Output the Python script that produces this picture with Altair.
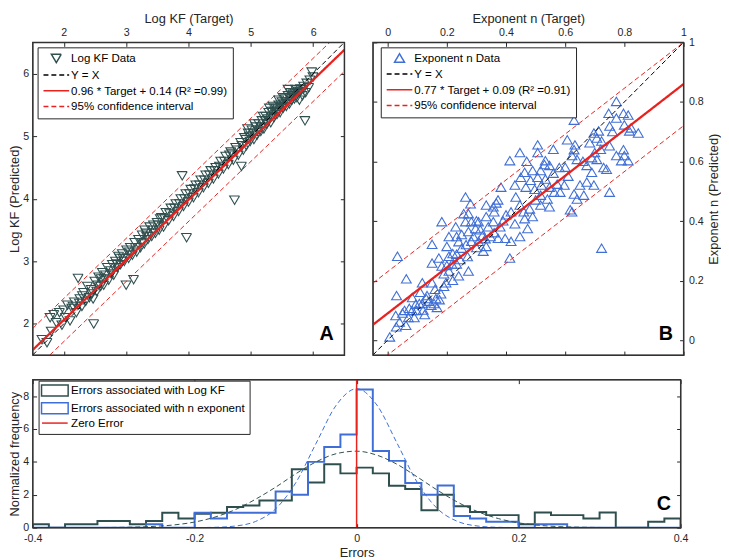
import altair as alt
import pandas as pd

FONT = "Liberation Sans"
INK = "#262626"
RED = "#e8231f"
SLATE = "#2f4f4f"
BLUE = "#3f6fd6"
FRAME_COLOR = "#333333"

# ---------------- Panel A : Log KF ----------------
A_target = [1.65, 1.73, 1.78, 1.80, 1.84, 1.88, 1.93, 1.97, 2.00, 2.03,
            2.06, 2.10, 2.13, 2.17, 2.20, 2.23, 2.26, 2.29, 2.32, 2.35,
            2.38, 2.41, 2.44, 2.47, 2.48, 2.50, 2.53, 2.56, 2.59, 2.62,
            2.64, 2.67, 2.70, 2.72, 2.75, 2.78, 2.80, 2.83, 2.86, 2.88,
            2.91, 2.94, 2.97, 3.00, 3.01, 3.04, 3.07, 3.10, 3.12, 3.14,
            3.17, 3.20, 3.23, 3.26, 3.29, 3.32, 3.35, 3.38, 3.41, 3.44,
            3.47, 3.50, 3.53, 3.57, 3.60, 3.64, 3.68, 3.72, 3.76, 3.80,
            3.84, 3.88, 3.90, 3.92, 3.96, 3.97, 4.00, 4.04, 4.08, 4.12,
            4.16, 4.20, 4.24, 4.28, 4.32, 4.36, 4.40, 4.44, 4.48, 4.52,
            4.56, 4.60, 4.64, 4.68, 4.72, 4.74, 4.76, 4.80, 4.85, 4.84,
            4.88, 4.90, 4.93, 4.96, 4.99, 5.02, 5.05, 5.08, 5.10, 5.13,
            5.16, 5.18, 5.21, 5.24, 5.26, 5.29, 5.32, 5.34, 5.37, 5.40,
            5.42, 5.45, 5.47, 5.50, 5.52, 5.55, 5.57, 5.60, 5.62, 5.64,
            5.66, 5.68, 5.70, 5.72, 5.74, 5.76, 5.78, 5.80, 5.83, 5.85,
            5.87, 5.88, 5.90, 5.93, 5.95, 5.98, 6.00, 5.60, 5.45, 5.30,
            2.15, 2.25, 2.45, 2.55, 2.65, 2.76, 2.85, 2.95, 3.05, 3.15,
            3.25, 3.33, 3.43, 3.52, 3.62, 3.70, 3.78, 3.86, 3.94, 4.02,
            4.10, 4.18, 4.26, 4.34, 4.42, 4.50, 4.58, 4.66, 4.70, 4.78,
            4.86, 4.92, 4.98, 5.04, 5.11, 5.17, 5.23, 5.28, 5.33, 5.38,
            5.43, 5.48, 5.53, 5.58, 5.63, 5.67, 5.71, 5.75, 5.79, 5.84,
            5.52, 5.36, 5.20, 5.06, 4.95, 3.55, 3.30, 2.90, 2.60, 2.30]
A_pred = [1.75, 1.70, 2.10, 1.88, 2.15, 2.02, 2.18, 1.98, 2.22, 2.10,
          2.30, 2.05, 2.25, 2.35, 2.18, 2.73, 2.40, 2.28, 2.50, 2.36,
          2.60, 2.42, 2.55, 2.40, 2.00, 2.68, 2.52, 2.75, 2.60, 2.82,
          2.62, 2.78, 2.90, 2.70, 2.85, 2.95, 2.78, 3.00, 2.90, 3.08,
          2.95, 3.12, 3.00, 2.62, 3.18, 3.05, 3.22, 3.10, 2.71, 3.30,
          3.15, 3.35, 3.22, 3.42, 3.28, 3.45, 3.35, 3.55, 3.40, 3.58,
          3.45, 3.62, 3.50, 3.70, 3.55, 3.78, 3.65, 3.85, 3.72, 3.92,
          3.80, 4.00, 4.37, 3.88, 4.08, 3.38, 3.95, 4.15, 4.02, 4.22,
          4.10, 4.30, 4.18, 4.38, 4.25, 4.45, 4.32, 4.50, 4.40, 4.60,
          4.48, 4.68, 4.55, 4.75, 4.62, 3.98, 4.82, 4.70, 4.52, 4.90,
          4.78, 4.98, 4.85, 5.05, 4.92, 5.10, 4.95, 5.15, 5.02, 5.20,
          5.08, 5.25, 5.12, 5.32, 5.20, 5.38, 5.22, 5.40, 5.30, 5.45,
          5.35, 5.50, 5.38, 5.55, 5.45, 5.60, 5.48, 5.65, 5.52, 5.70,
          5.58, 5.68, 5.60, 5.75, 5.62, 5.72, 5.58, 5.76, 5.65, 5.80,
          5.25, 5.70, 5.85, 5.78, 5.90, 6.03, 5.95, 5.75, 5.58, 5.45,
          2.28, 2.33, 2.48, 2.62, 2.72, 2.80, 2.96, 3.05, 3.15, 3.22,
          3.30, 3.40, 3.50, 3.58, 3.68, 3.76, 3.85, 3.92, 4.00, 4.08,
          4.16, 4.22, 4.30, 4.38, 4.45, 4.52, 4.60, 4.70, 4.72, 4.78,
          4.85, 4.95, 5.00, 5.05, 5.10, 5.15, 5.25, 5.28, 5.32, 5.40,
          5.42, 5.48, 5.52, 5.55, 5.62, 5.64, 5.70, 5.68, 5.72, 5.75,
          5.62, 5.48, 5.32, 5.20, 5.12, 3.68, 3.50, 3.05, 2.72, 2.45]
A_slope = 0.96
A_intercept = 0.14
A_ci_half = 0.345
A_domain = [1.5, 6.5]
A_ticks = [2, 3, 4, 5, 6]
A_series = ["Log KF Data", "Y = X", "0.96 * Target + 0.14 (R² =0.99)",
            "95% confidence interval"]

# ---------------- Panel B : exponent n ----------------
B_target = [0.007, 0.029, 0.062, 0.027, 0.050, 0.030, 0.083, 0.107, 0.133, 0.157,
            0.167, 0.180, 0.063, 0.033, 0.150, 0.197, 0.173, 0.207, 0.150, 0.200,
            0.233, 0.263, 0.280, 0.207, 0.233, 0.250, 0.273, 0.250, 0.283, 0.307,
            0.273, 0.333, 0.367, 0.313, 0.333, 0.357, 0.380, 0.307, 0.333, 0.347,
            0.417, 0.447, 0.397, 0.417, 0.447, 0.413, 0.473, 0.463, 0.490, 0.517,
            0.547, 0.617, 0.623, 0.723, 0.183, 0.230, 0.297, 0.323, 0.373, 0.283,
            0.263, 0.217, 0.273, 0.240, 0.207, 0.233, 0.183, 0.117, 0.083, 0.057,
            0.117, 0.147, 0.163, 0.073, 0.097, 0.130, 0.190, 0.150, 0.290, 0.257,
            0.357,
            0.773, 0.747, 0.797, 0.813, 0.773, 0.750, 0.800, 0.823, 0.817, 0.847,
            0.630, 0.697, 0.713, 0.707, 0.723, 0.683, 0.750, 0.797, 0.800, 0.773,
            0.813, 0.790, 0.607, 0.633, 0.630, 0.700, 0.690, 0.707, 0.640, 0.623,
            0.730, 0.673, 0.690, 0.740, 0.673, 0.697, 0.750, 0.650, 0.507, 0.447,
            0.413, 0.507, 0.533, 0.530, 0.547, 0.580, 0.517, 0.463, 0.490, 0.483,
            0.507, 0.533, 0.450, 0.430, 0.383, 0.467, 0.497, 0.547, 0.573, 0.597,
            0.563, 0.583, 0.517, 0.540, 0.630, 0.663, 0.640, 0.433, 0.373,
            0.040, 0.070, 0.095, 0.120, 0.140, 0.110, 0.160, 0.175, 0.090, 0.125,
            0.200, 0.220, 0.245, 0.265, 0.300, 0.320, 0.340, 0.360, 0.300, 0.240,
            0.390, 0.400, 0.430, 0.460, 0.480, 0.360, 0.330, 0.270, 0.220, 0.190,
            0.500, 0.560, 0.600, 0.660, 0.720, 0.760, 0.560, 0.470, 0.520, 0.610]
B_pred = [0.010, 0.044, 0.049, 0.082, 0.090, 0.149, 0.099, 0.122, 0.149, 0.122,
          0.109, 0.155, 0.205, 0.281, 0.192, 0.192, 0.275, 0.281, 0.321, 0.314,
          0.288, 0.480, 0.457, 0.347, 0.347, 0.308, 0.364, 0.354, 0.331, 0.397,
          0.424, 0.453, 0.460, 0.370, 0.414, 0.397, 0.380, 0.331, 0.314, 0.347,
          0.430, 0.453, 0.341, 0.331, 0.347, 0.275, 0.374, 0.407, 0.414, 0.453,
          0.447, 0.437, 0.430, 0.308, 0.397, 0.380, 0.374, 0.298, 0.341, 0.397,
          0.397, 0.255, 0.231, 0.215, 0.231, 0.255, 0.248, 0.192, 0.142, 0.099,
          0.122, 0.116, 0.139, 0.106, 0.099, 0.139, 0.222, 0.258, 0.347, 0.424,
          0.447,
          0.801, 0.761, 0.761, 0.755, 0.745, 0.718, 0.722, 0.712, 0.702, 0.695,
          0.738, 0.695, 0.702, 0.678, 0.668, 0.662, 0.652, 0.639, 0.619, 0.619,
          0.602, 0.602, 0.672, 0.655, 0.639, 0.629, 0.612, 0.606, 0.606, 0.619,
          0.579, 0.586, 0.563, 0.573, 0.530, 0.520, 0.496, 0.520, 0.655, 0.629,
          0.602, 0.629, 0.602, 0.589, 0.586, 0.579, 0.569, 0.563, 0.569, 0.536,
          0.546, 0.540, 0.546, 0.520, 0.513, 0.513, 0.506, 0.513, 0.523, 0.520,
          0.496, 0.496, 0.486, 0.473, 0.490, 0.486, 0.473, 0.480, 0.470,
          0.060, 0.075, 0.120, 0.100, 0.130, 0.160, 0.170, 0.135, 0.075, 0.085,
          0.250, 0.290, 0.270, 0.320, 0.310, 0.350, 0.380, 0.360, 0.400, 0.330,
          0.400, 0.420, 0.390, 0.430, 0.440, 0.430, 0.340, 0.280, 0.200, 0.180,
          0.470, 0.560, 0.580, 0.600, 0.640, 0.700, 0.640, 0.600, 0.520, 0.550]
B_slope = 0.77
B_intercept = 0.09
B_ci_half = 0.14
B_domain = [-0.05, 1.0]
B_ticks = [0, 0.2, 0.4, 0.6, 0.8, 1]
B_series = ["Exponent n Data", "Y = X", "0.77 * Target + 0.09 (R² =0.91)",
            "95% confidence interval"]

# ---------------- Panel C : error histograms ----------------
C_edges = [-0.40, -0.38, -0.36, -0.34, -0.32, -0.30, -0.28, -0.26, -0.24, -0.22,
           -0.20, -0.18, -0.16, -0.14, -0.12, -0.10, -0.08, -0.06, -0.04, -0.02,
           0.00, 0.02, 0.04, 0.06, 0.08, 0.10, 0.12, 0.14, 0.16, 0.18,
           0.20, 0.22, 0.24, 0.26, 0.28, 0.30, 0.32, 0.34, 0.36, 0.38, 0.40]
C_logkf = [0.2, 0.0, 0.2, 0.2, 0.4, 0.4, 0.2, 0.4, 0.9, 0.55,
           0.85, 0.9, 1.25, 1.35, 1.65, 1.65, 3.55, 2.75, 3.85, 3.3,
           3.65, 3.3, 2.55, 2.35, 1.05, 2.0, 1.3, 0.95, 0.76, 0.76,
           0.2, 0.92, 0.76, 0.76, 0.56, 0.92, 0.0, 0.0, 0.36, 0.56]
C_nexp = [0, 0, 0, 0, 0, 0, 0, 0.2, 0, 0,
          0.9, 0.56, 0.9, 0.9, 0.9, 2.2, 2.0, 4.0, 4.9, 5.66,
          8.4, 4.66, 4.06, 2.72, 2.0, 2.56, 0.7, 0.56, 0.36, 0.36,
          0, 0.2, 0.2, 0, 0, 0, 0, 0, 0, 0]
C_curve_x = [-0.4, -0.375, -0.35, -0.325, -0.3, -0.275, -0.25, -0.225, -0.2, -0.175,
             -0.15, -0.125, -0.1, -0.075, -0.05, -0.025, 0.0, 0.025, 0.05, 0.075,
             0.1, 0.125, 0.15, 0.175, 0.2, 0.225, 0.25, 0.275, 0.3, 0.325,
             0.35, 0.375, 0.4]
C_curve_logkf = [0.0, 0.0, 0.001, 0.004, 0.012, 0.031, 0.075, 0.166, 0.34, 0.64,
                 1.09, 1.72, 2.46, 3.28, 4.0, 4.5, 4.65, 4.41, 3.85, 3.08,
                 2.27, 1.54, 0.96, 0.55, 0.29, 0.14, 0.06, 0.025, 0.009, 0.003,
                 0.001, 0.0, 0.0]
C_curve_nexp = [0, 0, 0, 0, 0, 0, 0, 0, 0.003, 0.018,
                0.094, 0.37, 1.14, 2.74, 5.13, 7.46, 8.45, 7.46, 5.13, 2.74,
                1.14, 0.37, 0.094, 0.018, 0.003, 0, 0, 0, 0, 0,
                0, 0, 0]
C_zero = [0]
C_xdomain = [-0.4, 0.4]
C_ydomain = [0, 9]
C_xticks = [-0.4, -0.2, 0, 0.2, 0.4]
C_yticks = [0, 2, 4, 6, 8]
C_series = ["Errors associated with Log KF", "Errors associated with n exponent",
            "Zero Error"]

# symbol paths (drawn at size 100 -> 1 unit = 5 px)
TRI_DOWN = "M-1,-0.8L1,-0.8L0,0.9Z"
TRI_UP = "M0,-0.9L1,0.8L-1,0.8Z"
LINE = "M-2.6,0H2.6"
RECT = "M-2.7,-1.1H2.7V1.1H-2.7Z"

NUM = "datum.value < 0 ? '-' + format(-datum.value, '~g') : format(datum.value, '~g')"
TICK_FS = 10.8
TITLE_FS = 13
LEG_FS = 11.7


def axis(orient, values, title=None, labels=True, pad=5, tpad=2, angle=None, tbase=None):
    kw = dict(orient=orient, values=values, domain=False, grid=False, ticks=True,
              tickSize=4, offset=-4, tickColor=INK, tickWidth=1, labels=labels,
              labelFlush=False, labelOverlap=False, labelFont=FONT, labelFontSize=TICK_FS,
              labelColor=INK, labelPadding=pad, labelExpr=NUM,
              titleFont=FONT, titleFontSize=TITLE_FS, titleFontWeight="normal",
              titleColor=INK, titlePadding=tpad, title=title)
    if angle is not None:
        kw["titleAngle"] = angle
    if tbase is not None:
        kw["titleBaseline"] = tbase
    return alt.Axis(**kw)


def legend(x, y, pad, rowpad, symoff, laboff):
    return alt.Legend(orient="none", legendX=x, legendY=y, title=None, direction="vertical",
                      fillColor="white", strokeColor=INK, padding=pad, rowPadding=rowpad,
                      labelFont=FONT, labelFontSize=LEG_FS, labelColor="black",
                      labelLimit=400, labelOffset=laboff, symbolOffset=symoff,
                      symbolSize=100, symbolStrokeWidth=1.5, cornerRadius=0)


def frame(xdom, ydom, xs, ys):
    box = pd.DataFrame({"x0": [xdom[0]], "x1": [xdom[1]], "y0": [ydom[0]], "y1": [ydom[1]]})
    return alt.Chart(box).mark_rect(fillOpacity=0, stroke=FRAME_COLOR, strokeWidth=1.2).encode(
        x=alt.X("x0:Q", scale=xs, axis=None), x2="x1:Q",
        y=alt.Y("y0:Q", scale=ys, axis=None), y2="y1:Q")


def scatter_panel(tx, py, slope, icpt, half, dom, ticks, series, color, tri,
                  xtitle, ytitle, yside, letter, field, lx, ly, w):
    pts = pd.DataFrame({"t": tx, "p": py})
    pts[field] = series[0]
    rows = []
    for x in dom:
        rows.append({"t": x, "p": x, field: series[1], "g": "yx", "w": 1.0})
        rows.append({"t": x, "p": slope * x + icpt, field: series[2], "g": "fit", "w": 2.3})
        rows.append({"t": x, "p": slope * x + icpt + half, field: series[3], "g": "up", "w": 1.0})
        rows.append({"t": x, "p": slope * x + icpt - half, field: series[3], "g": "lo", "w": 1.0})
    lines = pd.DataFrame(rows)

    xs = alt.Scale(domain=dom, nice=False, zero=False)
    ys = alt.Scale(domain=dom, nice=False, zero=False)
    cs = alt.Scale(domain=series, range=[color, "black", RED, RED])
    ss = alt.Scale(domain=series, range=[tri, LINE, LINE, LINE])
    ds = alt.Scale(domain=series, range=[[1, 0], [5, 3], [1, 0], [5, 3]])
    lg = legend(lx, ly, 5, 3, 8, 9)
    other = "right" if yside == "left" else "left"
    if yside == "left":
        yax = axis("left", ticks, ytitle, pad=4, tpad=1)
    else:
        yax = axis("right", ticks, ytitle, pad=5, tpad=4, angle=270, tbase="top")

    scat = alt.Chart(pts).mark_point(filled=False, opacity=1, size=100, strokeWidth=1.1,
                                     clip=True).encode(
        x=alt.X("t:Q", scale=xs, axis=axis("top", ticks, xtitle, pad=5, tpad=1)),
        y=alt.Y("p:Q", scale=ys, axis=yax),
        color=alt.Color(f"{field}:N", scale=cs, legend=lg),
        shape=alt.Shape(f"{field}:N", scale=ss, legend=lg),
        strokeDash=alt.StrokeDash(f"{field}:N", scale=ds, legend=lg),
    )
    ln = alt.Chart(lines).mark_line(clip=True).encode(
        x=alt.X("t:Q", scale=xs, axis=axis("bottom", ticks, labels=False)),
        y=alt.Y("p:Q", scale=ys, axis=axis(other, ticks, labels=False)),
        color=alt.Color(f"{field}:N", scale=cs, legend=lg),
        strokeDash=alt.StrokeDash(f"{field}:N", scale=ds, legend=lg),
        detail="g:N",
        strokeWidth=alt.StrokeWidth("w:Q", scale=None),
    )
    txt = alt.Chart(pd.DataFrame({"lab": [letter]})).mark_text(
        font=FONT, fontSize=20, fontWeight="bold", color="black",
        align="center", baseline="middle").encode(
        text="lab:N", x=alt.value(w - 18), y=alt.value(296))
    return alt.layer(scat, ln, txt, frame(dom, dom, xs, ys)).resolve_axis(
        x="independent", y="independent").properties(width=w, height=317)


panel_a = scatter_panel(A_target, A_pred, A_slope, A_intercept, A_ci_half, A_domain,
                        A_ticks, A_series, SLATE, TRI_DOWN, "Log KF  (Target)",
                        "Log KF  (Predicted)", "left", "A", "sA", 5, 5, 316)
panel_b = scatter_panel(B_target, B_pred, B_slope, B_intercept, B_ci_half, B_domain,
                        B_ticks, B_series, BLUE, TRI_UP, "Exponent n (Target)",
                        "Exponent n (Predicted)", "right", "B", "sB", 8, 5, 315)

# ---- panel C ----
hrows = []
for name, vals in ((C_series[0], C_logkf), (C_series[1], C_nexp)):
    seq = [(C_edges[0], 0.0)] + list(zip(C_edges[:-1], vals)) + \
          [(C_edges[-1], vals[-1]), (C_edges[-1], 0.0)]
    for k, (e, f) in enumerate(seq):
        hrows.append({"e": e, "f": f, "sC": name, "k": k})
hist = pd.DataFrame(hrows)
curves = pd.DataFrame({"e": C_curve_x, "f1": C_curve_logkf, "f2": C_curve_nexp})

cx = alt.Scale(domain=C_xdomain, nice=False, zero=False)
cy = alt.Scale(domain=C_ydomain, nice=False, zero=False)
ccs = alt.Scale(domain=C_series, range=[SLATE, BLUE, RED])
cshape = alt.Scale(domain=C_series, range=[RECT, RECT, LINE])
lgC = legend(6, 1, 4, 0, 6.5, 10.5)

h_layer = alt.Chart(hist).mark_line(interpolate="step-after", strokeWidth=2, clip=True).encode(
    x=alt.X("e:Q", scale=cx, axis=axis("bottom", C_xticks, "Errors", pad=5, tpad=3)),
    y=alt.Y("f:Q", scale=cy, axis=axis("left", C_yticks, "Normalized frequency", pad=4, tpad=1)),
    color=alt.Color("sC:N", scale=ccs, legend=lgC),
    order="k:Q",
)
c1 = alt.Chart(curves).mark_line(strokeDash=[5, 3], strokeWidth=1, interpolate="monotone",
                                 clip=True, color=SLATE).encode(
    x=alt.X("e:Q", scale=cx, axis=axis("top", C_xticks, labels=False)),
    y=alt.Y("f1:Q", scale=cy, axis=axis("right", C_yticks, labels=False)),
)
c2 = alt.Chart(curves).mark_line(strokeDash=[5, 3], strokeWidth=1, interpolate="monotone",
                                 clip=True, color=BLUE).encode(
    x=alt.X("e:Q", scale=cx, axis=None),
    y=alt.Y("f2:Q", scale=cy, axis=None),
)
zero = alt.Chart(pd.DataFrame({"e": C_zero, "sC": [C_series[2]]})).mark_rule(
    strokeWidth=1.5).encode(
    x=alt.X("e:Q", scale=cx, axis=None),
    color=alt.Color("sC:N", scale=ccs, legend=lgC),
)
carrier = alt.Chart(pd.DataFrame({"sC": C_series})).transform_filter("false").mark_point(
    filled=False, opacity=1, size=100, strokeWidth=2).encode(
    color=alt.Color("sC:N", scale=ccs, legend=lgC),
    shape=alt.Shape("sC:N", scale=cshape, legend=lgC),
)
txtC = alt.Chart(pd.DataFrame({"lab": ["C"]})).mark_text(
    font=FONT, fontSize=20, fontWeight="bold", color="black",
    align="center", baseline="middle").encode(
    text="lab:N", x=alt.value(640), y=alt.value(126))

panel_c = alt.layer(h_layer, c1, c2, zero, carrier, txtC,
                    frame(C_xdomain, C_ydomain, cx, cy)).resolve_axis(
    x="independent", y="independent").properties(width=657, height=150)

top = alt.hconcat(panel_a, panel_b, spacing=25).resolve_scale(
    color="independent", shape="independent", strokeDash="independent")
chart = alt.vconcat(top, panel_c, spacing=21).resolve_scale(
    color="independent", shape="independent", strokeDash="independent").properties(
    padding={"left": 0, "top": 0, "right": 0, "bottom": 0}).configure(
    font=FONT).configure_view(stroke=FRAME_COLOR, strokeWidth=1.2)

chart.save("out.html", embed_options={"renderer": "svg", "actions": False})
